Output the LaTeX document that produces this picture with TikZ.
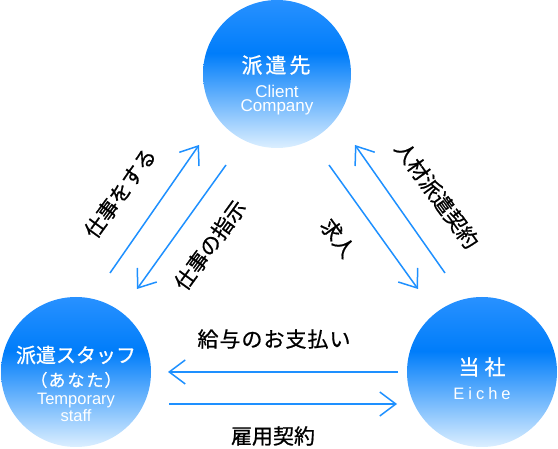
\documentclass[tikz,border=0pt]{standalone}
\usepackage{fontspec}
\setmainfont{Liberation Sans}
\newfontfamily\jp[FakeBold=0.8]{Noto Sans CJK JP}
\usetikzlibrary{arrows.meta}
\definecolor{ballTop}{RGB}{40,145,255}
\definecolor{ballDeep}{RGB}{0,125,250}
\definecolor{ballBot}{RGB}{220,239,255}
\definecolor{arrowBlue}{RGB}{30,144,255}
\pgfdeclareverticalshading{ballshade}{100bp}{color(0bp)=(ballBot); color(25bp)=(ballBot); color(57bp)=(ballDeep); color(75bp)=(ballTop); color(100bp)=(ballTop)}
\begin{document}
\begin{tikzpicture}[x=1pt,y=-1pt,
  ball/.style={circle, minimum size=150pt, inner sep=0pt, shade, shading=ballshade},
  link/.style={draw=arrowBlue, line width=1.5pt, -{Straight Barb[length=16pt,width=24pt]}},
  jlabel/.style={font=\jp\fontsize{21}{25}\selectfont, text=black, inner sep=0pt},
  wtitle/.style={font=\jp\fontsize{21}{25}\selectfont, text=white, inner sep=0pt},
  wsmall/.style={font=\jp\fontsize{17}{20}\selectfont, text=white, inner sep=0pt},
  wsub/.style={font=\fontsize{17}{19}\selectfont, text=white, inner sep=0pt},
  wsubs/.style={font=\fontsize{16.5}{18}\selectfont, text=white, inner sep=0pt}]
\useasboundingbox (0,0) rectangle (558,449);

% circles
\node[ball, minimum size=148pt] (client) at (277,74) {};
\node[ball] (staff) at (76,372) {};
\node[ball] (eiche) at (482,372) {};

% circle texts
\node[wtitle] (clientJa) at (276,65) {派\hspace{3pt}遣\hspace{3pt}先};
\node[wsub] (clientEn1) at (277,91) {Client};
\node[wsub] (clientEn2) at (277,107) {Company};

\node[wtitle, font=\jp\fontsize{20}{24}\selectfont] (staffJa) at (76,355) {派遣スタッフ};
\node[wsmall] (staffYou) at (76,380) {（\hspace{1pt}あ\hspace{2pt}な\hspace{2pt}た\hspace{1pt}）};
\node[wsubs] (staffEn1) at (76,401) {Temporary};
\node[wsubs] (staffEn2) at (76,416) {staff};

\node[wtitle] (eicheJa) at (482,367) {当\hspace{5pt}社};
\node[wsubs] (eicheEn) at (482,394) {E\kern4pt i\kern4pt c\kern4pt h\kern4pt e};

% arrow end points
\coordinate (l1a) at (110,273);
\coordinate (l1b) at (199,145);
\coordinate (l2a) at (226,165);
\coordinate (l2b) at (137,289);
\coordinate (r1a) at (445,273);
\coordinate (r1b) at (355,145);
\coordinate (r2a) at (329,165);
\coordinate (r2b) at (418,289);
\coordinate (b1a) at (398,372);
\coordinate (b1b) at (168,372);
\coordinate (b2a) at (169,404);
\coordinate (b2b) at (397,404);

\draw[link] (l1a) -- (l1b);
\draw[link] (l2a) -- (l2b);
\draw[link] (r1a) -- (r1b);
\draw[link] (r2a) -- (r2b);
\draw[link] (b1a) -- (b1b);
\draw[link] (b2a) -- (b2b);

% labels
\node[jlabel, rotate=54] (doWork) at (120,193) {仕事をする};
\node[jlabel, rotate=54] (instruct) at (210,245) {仕事の指示};
\node[jlabel, rotate=-54] (contract) at (437,195) {人材派遣契約};
\node[jlabel, rotate=-54] (recruit) at (338,238) {求人};
\node[jlabel] (salary) at (274,339) {給\hspace{1pt}与\hspace{1pt}の\hspace{1pt}お\hspace{1pt}支\hspace{1pt}払\hspace{1pt}い};
\node[jlabel] (employ) at (273,436) {雇用契約};
\end{tikzpicture}
\end{document}
